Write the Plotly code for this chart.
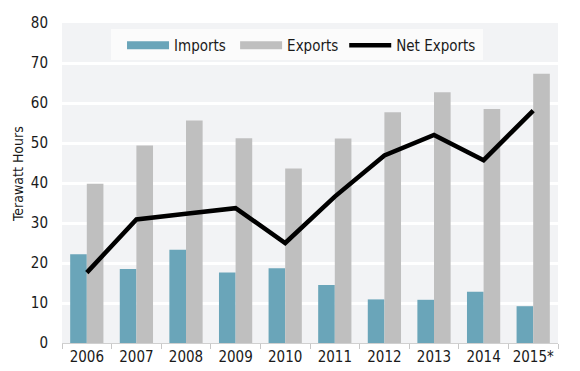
import plotly.graph_objects as go

years = ["2006", "2007", "2008", "2009", "2010", "2011", "2012", "2013", "2014", "2015*"]
imports = [22.2, 18.5, 23.3, 17.6, 18.7, 14.5, 10.9, 10.8, 12.8, 9.2]
exports = [39.8, 49.4, 55.6, 51.2, 43.6, 51.1, 57.7, 62.7, 58.5, 67.3]
net_exports = [17.6, 30.9, 32.3, 33.7, 25.0, 36.6, 46.9, 52.0, 45.7, 58.1]
y_ticks = [0, 10, 20, 30, 40, 50, 60, 70, 80]

TEAL = "#6aa5b9"
GRAY = "#bfbfbf"
FONT = "DejaVu Sans Condensed, DejaVu Sans, sans-serif"
FS = 15

fig = go.Figure()
fig.add_trace(go.Bar(x=years, y=imports, name="Imports", marker=dict(color=TEAL, line=dict(width=0)),
                     showlegend=False))
fig.add_trace(go.Bar(x=years, y=exports, name="Exports", marker=dict(color=GRAY, line=dict(width=0)),
                     showlegend=False))
fig.add_trace(go.Scatter(x=years, y=net_exports, name="Net Exports", mode="lines",
                         line=dict(color="black", width=4.5), showlegend=False))
# legend entries
fig.add_trace(go.Scatter(x=[None], y=[None], mode="lines", name="Imports",
                         line=dict(color=TEAL, width=8), legend="legend"))
fig.add_trace(go.Scatter(x=[None], y=[None], mode="lines", name="Exports",
                         line=dict(color=GRAY, width=8), legend="legend2"))
fig.add_trace(go.Scatter(x=[None], y=[None], mode="lines", name="Net Exports",
                         line=dict(color="black", width=4.5), legend="legend3"))


def leg(x):
    return dict(
        orientation="h",
        x=x, xanchor="left",
        y=0.981, yanchor="top",
        bgcolor="rgba(0,0,0,0)",
        font=dict(family=FONT, size=FS, color="#1a1a1a"),
        itemwidth=42,
    )


# page has an 8px body margin; plot area should land at x 62..558, y 23..343
fig.update_layout(
    width=580, height=371,
    margin=dict(l=54, r=30, t=15, b=36),
    paper_bgcolor="white",
    plot_bgcolor="#f2f3f5",
    barmode="group",
    bargap=0.33,
    bargroupgap=0,
    font=dict(family=FONT, size=FS, color="#1a1a1a"),
    legend=leg(0.121),
    legend2=leg(0.349),
    legend3=leg(0.569),
    shapes=[dict(type="rect", xref="paper", yref="paper",
                 x0=(111 - 62) / 496, x1=(483 - 62) / 496,
                 y0=(343 - 60) / 320, y1=(343 - 29) / 320,
                 fillcolor="#fbfbfb", line=dict(width=0), layer="below")],
    annotations=[dict(text="Terawatt Hours", textangle=-90, showarrow=False,
                      xref="paper", yref="paper", x=-0.107, y=0.528,
                      xanchor="left", yanchor="middle", borderpad=0,
                      font=dict(family=FONT, size=14, color="#1a1a1a"))],
    xaxis=dict(
        type="category",
        automargin=False,
        tickangle=0,
        tickson="boundaries",
        ticks="outside",
        ticklen=5,
        tickcolor="#c8c8c8",
        showline=True,
        linecolor="#d0d0d0",
        linewidth=1,
        showgrid=False,
        tickfont=dict(family=FONT, size=FS),
    ),
    yaxis=dict(
        range=[0, 80],
        automargin=False,
        tickvals=y_ticks,
        showgrid=True,
        gridcolor="white",
        gridwidth=2.5,
        zeroline=False,
        showline=False,
        ticks="outside",
        ticklen=10,
        tickcolor="rgba(0,0,0,0)",
        tickfont=dict(family=FONT, size=FS),
    ),
)

fig.write_html("out.html")
